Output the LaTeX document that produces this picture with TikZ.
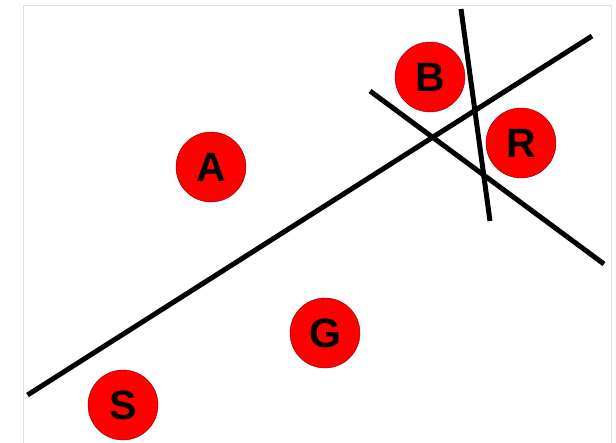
\documentclass[tikz,border=0pt]{standalone}
\usepackage{fontspec}
\setmainfont{Liberation Sans}
\usetikzlibrary{positioning}
\tikzset{ball/.style={circle, draw=red!50!black, fill=red, minimum size=70pt, inner sep=0pt, font=\fontsize{41}{41}\selectfont\bfseries}}

\begin{document}
\begin{tikzpicture}[x=1pt, y=-1pt]
\useasboundingbox (0,0) rectangle (616,443);
\fill[white](0,0) rectangle (616,443);
\draw[black!12](23.5,5.5)--(611,5.5)--(611,446);
\draw[black!12](23.5,5.5)--(23.5,446);
% dividing lines
\coordinate (l1a) at (27.5,395);
\coordinate (l1b) at (592,36);
\coordinate (l2a) at (370,91);
\coordinate (l2b) at (604,264);
\coordinate (l3a) at (461,9);
\coordinate (l3b) at (490,221);
\draw[line width=5pt](l1a)--(l1b);
\draw[line width=5pt](l2a)--(l2b);
\draw[line width=5pt](l3a)--(l3b);
% points
\node (B) at (430,77)[ball]{B};
\node (R) at (521,143)[ball]{R};
\node (A) at (211,167)[ball]{A};
\node (G) at (325,333)[ball]{G};
\node (S) at (123,405)[ball]{S};
\end{tikzpicture}
\end{document}
